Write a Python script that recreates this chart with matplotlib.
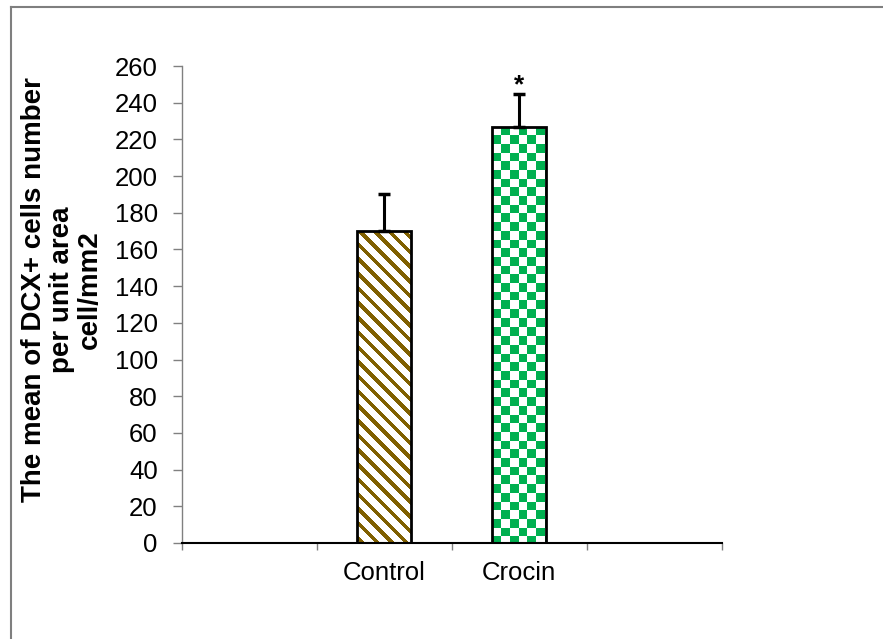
import numpy as np
import matplotlib
matplotlib.use("Agg")
import matplotlib.pyplot as plt
from matplotlib.colors import ListedColormap
from matplotlib.lines import Line2D

plt.rcParams['font.family'] = ['Liberation Sans', 'DejaVu Sans']

# ---- data ----
categories = ["", "Control", "Crocin", ""]
group_names = ["Control", "Crocin"]
group_means = [170, 227]
group_errors = [20.5, 17.5]
significance = ["", "*"]
y_ticks = list(range(0, 261, 20))
y_label = "The mean of DCX+ cells number\nper unit area\ncell/mm2"

W, H, DPI = 883, 639, 100
fig = plt.figure(figsize=(W / DPI, H / DPI), dpi=DPI)
ax = fig.add_axes([182 / W, 1 - 543 / H, (721.7 - 182) / W, (543 - 66) / H])

pos = [categories.index(g) for g in group_names]
bars = ax.bar(pos, group_means, width=0.4, facecolor='none',
              edgecolor='black', linewidth=2, zorder=3)
ax.errorbar(pos, group_means, yerr=[np.zeros(len(group_errors)), group_errors],
            fmt='none', ecolor='black', elinewidth=2.2, capsize=4.5,
            capthick=2.5, zorder=4)

ax.set_xlim(-0.5, len(categories) - 0.5)
ax.set_ylim(0, 260)

# fill patterns (pixel-level textures clipped to bars)
fig.canvas.draw()
styles = [("stripes", "#806000"), ("checker", "#00B050")]
for bar, (kind, col) in zip(bars, styles):
    x0 = bar.get_x(); x1 = x0 + bar.get_width(); h = bar.get_height()
    p0 = ax.transData.transform((x0, 0)); p1 = ax.transData.transform((x1, h))
    nx = int(round(p1[0] - p0[0])); ny = int(round(p1[1] - p0[1]))
    r, c = np.mgrid[0:ny, 0:nx]
    if kind == "stripes":
        val = (((c - r) % 14.7) < 5.5).astype(float)
    else:
        cell = 8.7
        val = ((np.floor(c / cell) + np.floor(r / cell)) % 2).astype(float)
    im = ax.imshow(val, extent=(x0, x1, 0, h), cmap=ListedColormap(['white', col]),
                   vmin=0, vmax=1, interpolation='nearest', aspect='auto', zorder=2)
    im.set_clip_path(bar)

ax.set_xlim(-0.5, len(categories) - 0.5)
ax.set_ylim(0, 260)

for b, m, e, s in zip(pos, group_means, group_errors, significance):
    if s:
        ax.text(b, m + e + 5, s, ha='center', va='center', fontsize=19,
                fontweight='bold', zorder=5)

# axes styling
ax.spines['top'].set_visible(False)
ax.spines['right'].set_visible(False)
ax.spines['left'].set_color('#808080')
ax.spines['left'].set_linewidth(1)
ax.spines['bottom'].set_color('black')
ax.spines['bottom'].set_linewidth(1.5)

ax.set_yticks(y_ticks)
ax.tick_params(axis='y', direction='out', length=6.5, width=1, color='#808080',
               labelsize=18.5, pad=11)
ax.set_xticks(np.arange(-0.5, len(categories), 1.0))
ax.set_xticklabels([])
ax.tick_params(axis='x', which='major', direction='out', length=5, width=1,
               color='#808080')
ax.set_xticks(np.arange(len(categories)), minor=True)
ax.set_xticklabels(categories, minor=True)
ax.tick_params(axis='x', which='minor', length=0, labelsize=18.5, pad=13)

fig.text(62 / W, 1 - 290 / H, y_label, rotation=90, ha='center', va='center',
         multialignment='center', fontsize=20, fontweight='bold',
         linespacing=1.08)

# outer chart border (left and top)
fig.add_artist(Line2D([11 / W, 11 / W], [0, 1 - 7 / H], transform=fig.transFigure,
                      color='#7f7f7f', linewidth=1.5))
fig.add_artist(Line2D([11 / W, 1], [1 - 7 / H, 1 - 7 / H], transform=fig.transFigure,
                      color='#7f7f7f', linewidth=1.5))

fig.savefig("out.png", dpi=DPI, facecolor='white')
